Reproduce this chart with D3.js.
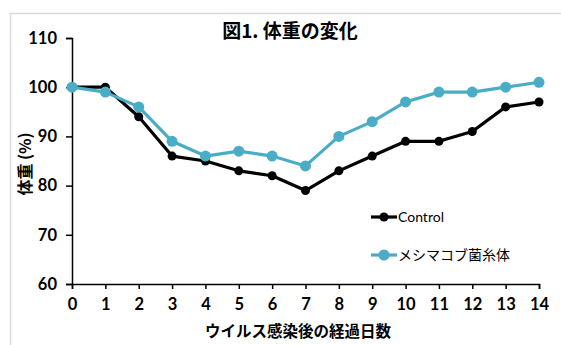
<!DOCTYPE html>
<html>
<head>
<meta charset="utf-8">
<script src="https://cdn.jsdelivr.net/npm/d3@7"></script>
<style>
  body { margin: 0; background: #fff; }
  text { font-family: Lato, "Noto Sans CJK JP", sans-serif; }
  .jp { font-family: "Noto Sans CJK JP", sans-serif; }
</style>
</head>
<body>
<script>
// data
var days = d3.range(0, 15);
var control = [100, 100, 94, 86, 85, 83, 82, 79, 83, 86, 89, 89, 91, 96, 97];
var mesima = [100, 99, 96, 89, 86, 87, 86, 84, 90, 93, 97, 99, 99, 100, 101];
var yTicks = [60, 70, 80, 90, 100, 110];
var seriesNames = ["Control", "メシマコブ菌糸体"];
var seriesColors = ["#000000", "#4bacc6"];

var width = 561, height = 345;

var svg = d3.select("body").append("svg")
    .attr("width", width)
    .attr("height", height);

// chart frame
svg.append("rect")
    .attr("x", 10.5).attr("y", 13.5)
    .attr("width", 600).attr("height", 400)
    .attr("fill", "none")
    .attr("stroke", "#d9d9d9")
    .attr("stroke-width", 1.5);

var x = d3.scaleLinear().domain([0, 14]).range([72, 539]);
var y = d3.scaleLinear().domain([60, 110]).range([284, 38]);

// y axis
var yAxis = svg.append("g")
    .attr("transform", "translate(72,0)")
    .call(d3.axisLeft(y).tickValues(yTicks).tickSize(6).tickPadding(9));
yAxis.select(".domain").attr("stroke", "#000").attr("stroke-width", 1.5);
yAxis.selectAll(".tick line").attr("stroke-width", 1.5);
yAxis.selectAll("text")
    .attr("font-size", 16.5).attr("font-weight", "bold").attr("fill", "#000");

// x axis
var xAxis = svg.append("g")
    .attr("transform", "translate(0,284)")
    .call(d3.axisBottom(x).tickValues(days).tickSize(5).tickPadding(9));
xAxis.select(".domain").attr("stroke", "#000").attr("stroke-width", 1.5);
xAxis.selectAll(".tick line").attr("stroke-width", 1.5);
xAxis.selectAll("text")
    .attr("font-size", 16.5).attr("font-weight", "bold").attr("fill", "#000");

// title
svg.append("text")
    .attr("class", "jp")
    .attr("x", 290).attr("y", 38)
    .attr("text-anchor", "middle")
    .attr("font-size", 19).attr("font-weight", "bold")
    .text("図1. 体重の変化");

// axis titles
svg.append("text")
    .attr("class", "jp")
    .attr("x", 298).attr("y", 337)
    .attr("text-anchor", "middle")
    .attr("font-size", 15.5).attr("font-weight", "bold")
    .text("ウイルス感染後の経過日数");

svg.append("text")
    .attr("class", "jp")
    .attr("transform", "translate(31,164) rotate(-90)")
    .attr("text-anchor", "middle")
    .attr("font-size", 16).attr("font-weight", "bold")
    .text("体重 (%)");

// lines
var line = d3.line()
    .x(function (d, i) { return x(days[i]); })
    .y(function (d) { return y(d); });

var series = [control, mesima];
var radii = [4.5, 5.5];

series.forEach(function (s, k) {
    svg.append("path")
        .attr("d", line(s))
        .attr("fill", "none")
        .attr("stroke", seriesColors[k])
        .attr("stroke-width", 3.2)
        .attr("stroke-linejoin", "round");

    svg.append("g").selectAll("circle")
        .data(s)
        .enter().append("circle")
        .attr("cx", function (d, i) { return x(days[i]); })
        .attr("cy", function (d) { return y(d); })
        .attr("r", radii[k])
        .attr("fill", seriesColors[k]);
});

// legend
var legend = svg.append("g").selectAll("g")
    .data(seriesNames)
    .enter().append("g")
    .attr("transform", function (d, i) { return "translate(371," + (217 + i * 38) + ")"; });

legend.append("line")
    .attr("x1", 0).attr("x2", 26)
    .attr("stroke", function (d, i) { return seriesColors[i]; })
    .attr("stroke-width", 3.2);
legend.append("circle")
    .attr("cx", 13)
    .attr("r", function (d, i) { return radii[i]; })
    .attr("fill", function (d, i) { return seriesColors[i]; });
legend.append("text")
    .attr("class", function (d, i) { return i ? "jp" : null; })
    .attr("x", 27).attr("dy", "0.35em")
    .attr("font-size", 14)
    .text(function (d) { return d; });
</script>
</body>
</html>
